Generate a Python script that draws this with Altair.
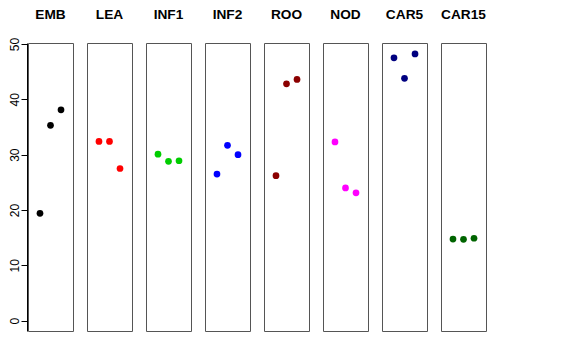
import altair as alt
import pandas as pd

groups = ["EMB", "LEA", "INF1", "INF2", "ROO", "NOD", "CAR5", "CAR15"]
colors = ["#000000", "#FF0000", "#00CD00", "#0000FF", "#8B0000", "#FF00FF", "#000080", "#006400"]
positions = [1, 2, 3]
EMB = [19.4, 35.3, 38.1]
LEA = [32.4, 32.4, 27.5]
INF1 = [30.1, 28.8, 28.9]
INF2 = [26.5, 31.7, 30.0]
ROO = [26.2, 42.8, 43.6]
NOD = [32.3, 24.0, 23.1]
CAR5 = [47.5, 43.8, 48.2]
CAR15 = [14.75, 14.7, 14.9]
y_ticks = [0, 10, 20, 30, 40, 50]

series = [EMB, LEA, INF1, INF2, ROO, NOD, CAR5, CAR15]
rows = []
for g, vals in zip(groups, series):
    for p, v in zip(positions, vals):
        rows.append({"group": g, "pos": p, "value": v})
df = pd.DataFrame(rows)

base = alt.Chart(df).mark_circle(size=45, opacity=1).encode(
    x=alt.X("pos:Q", scale=alt.Scale(domain=[-0.14, 4.14], nice=False, zero=False), axis=None),
    y=alt.Y(
        "value:Q",
        scale=alt.Scale(domain=[-1.86, 50.18], nice=False, zero=False),
        axis=alt.Axis(
            values=y_ticks, title=None, grid=False, domain=True, domainColor="#000000",
            tickColor="#000000", tickSize=6, labelPadding=0, labelAngle=270,
            labelAlign="center", labelBaseline="bottom", labelFont="Liberation Sans",
            labelFontSize=12, labelColor="#000000",
        ),
    ),
    color=alt.Color("group:N", scale=alt.Scale(domain=groups, range=colors), legend=None),
).properties(width=45, height=288)

chart = base.facet(
    column=alt.Column(
        "group:N", sort=groups, title=None,
        header=alt.Header(labelFont="Liberation Sans", labelFontSize=13.7, labelFontWeight="bold",
                          labelColor="#000000", labelPadding=9, labelBaseline="alphabetic"),
    ),
    spacing=12,
).properties(
    padding={"left": 0, "top": 0, "right": 5, "bottom": 5},
    background="white",
).configure_view(stroke="#555555", strokeWidth=1)

chart.save("out.html", embed_options={"renderer": "svg", "actions": False})
